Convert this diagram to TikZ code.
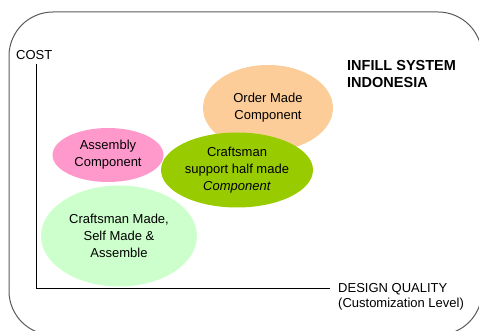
\documentclass[tikz,border=0pt]{standalone}
\usepackage{fontspec}
\setmainfont{Liberation Sans}
\usetikzlibrary{shapes.geometric}
\definecolor{lightpeach}{RGB}{252,204,153}
\definecolor{lightpink}{RGB}{255,153,204}
\definecolor{olivegreen}{RGB}{153,204,0}
\definecolor{palegreen}{RGB}{204,255,204}
\definecolor{framegray}{RGB}{90,90,90}

\begin{document}
\begin{tikzpicture}[x=1pt,y=1pt,
    bubble/.style={ellipse,inner sep=0pt,align=center,font=\fontsize{13}{17}\selectfont},
    axistext/.style={inner sep=0pt,align=left,font=\fontsize{13}{15}\selectfont}]
      \clip (0,0) rectangle (479,331);
      \draw[framegray,line width=1pt,rounded corners=44] (9,-4) rectangle (482,319);   % frame

      % axes
      \coordinate (O) at (36,43);
      \coordinate (Ytop) at (36,267);
      \coordinate (Xend) at (330,43);
      \draw[line width=0.9pt] (Ytop) -- (O) -- (Xend);
      \node[axistext,anchor=west] (cost) at (16,276) {COST};
      \node[axistext,anchor=west] (quality) at (338,34) {DESIGN QUALITY\\(Customization Level)};
      \node[axistext,anchor=west,font=\fontsize{14.5}{17}\selectfont\bfseries] (title) at (347,257) {INFILL SYSTEM\\INDONESIA};

      % bubbles
      \node[bubble,fill=lightpeach,minimum width=130,minimum height=86] (order) at (268,223) {Order Made\\Component};
      \node[bubble,fill=olivegreen,minimum width=152,minimum height=75] (support) at (237,161) {Craftsman\\support half made\\\textit{Component}};
      \node[bubble,fill=lightpink,minimum width=111,minimum height=54] (assembly) at (108,176) {Assembly\\Component};
      \node[bubble,fill=palegreen,minimum width=156,minimum height=101] (selfmade) at (119,95) {Craftsman Made,\\Self Made \&\\Assemble};
\end{tikzpicture}
\end{document}
